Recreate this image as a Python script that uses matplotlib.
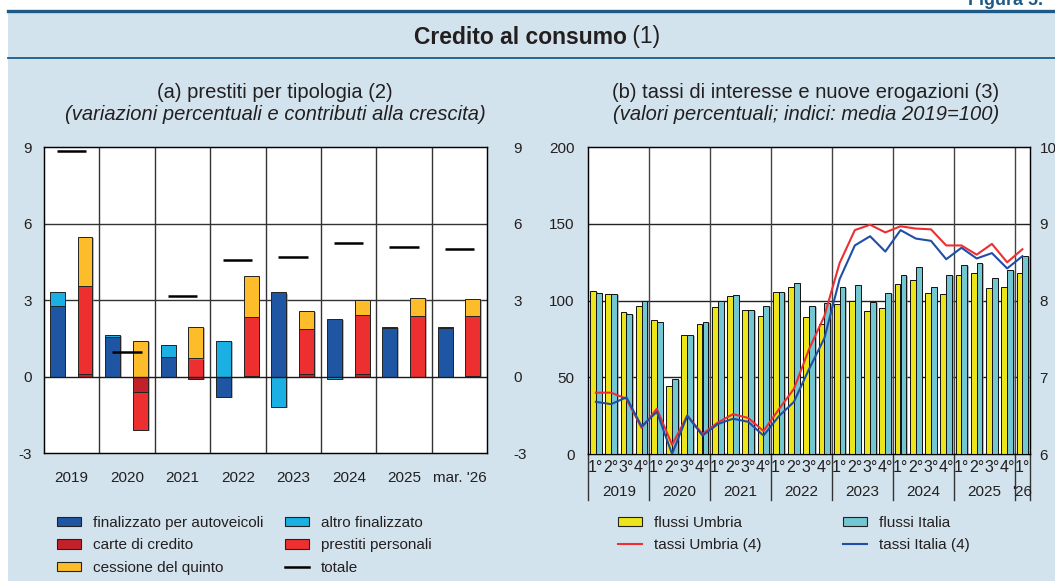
import matplotlib
matplotlib.use("Agg")
import matplotlib.pyplot as plt
import matplotlib.patheffects as pe
from matplotlib.patches import Patch, Rectangle
from matplotlib.lines import Line2D
import matplotlib.transforms as mtrans
import numpy as np

plt.rcParams['font.family'] = ['Liberation Sans', 'DejaVu Sans']

# ---------------- data: panel (a) ----------------
years_a = ["2019", "2020", "2021", "2022", "2023", "2024", "2025", "mar. '26"]
autoveicoli = [2.79, 1.57, 0.78, -0.78, 3.31, 2.28, 1.90, 1.90]
altro_finalizzato = [0.55, 0.06, 0.47, 1.41, -1.17, -0.08, 0.07, 0.06]
carte_credito = [0.12, -0.60, -0.07, 0.04, 0.12, 0.10, 0.01, 0.05]
prestiti_personali = [3.45, -1.49, 0.72, 2.31, 1.77, 2.33, 2.38, 2.32]
cessione_quinto = [1.93, 1.41, 1.24, 1.59, 0.68, 0.58, 0.70, 0.68]
totale = [8.87, 0.97, 3.17, 4.57, 4.71, 5.23, 5.09, 5.02]

# ---------------- data: panel (b) ----------------
year_labels_b = ["2019", "2020", "2021", "2022", "2023", "2024", "2025", "'26"]
quarters_per_year = [4, 4, 4, 4, 4, 4, 4, 1]
quarter_labels = ["1°", "2°", "3°", "4°"]
flussi_umbria = [106.1, 104.6, 92.4, 96.7, 87.2, 44.3, 77.4, 84.8,
                 96.1, 102.8, 93.9, 89.8, 105.4, 108.9, 89.1, 84.6,
                 97.6, 99.6, 93.5, 95.2, 110.7, 113.3, 104.8, 104.6,
                 116.7, 117.8, 108.0, 108.7, 117.8]
flussi_italia = [104.8, 104.1, 91.1, 99.6, 85.9, 48.7, 77.8, 86.3,
                 99.6, 103.5, 93.7, 96.7, 105.9, 111.7, 96.3, 98.3,
                 108.7, 110.0, 98.9, 105.2, 116.5, 121.7, 109.1, 116.5,
                 123.3, 124.3, 114.8, 119.8, 129.3]
tassi_umbria = [6.80, 6.80, 6.72, 6.34, 6.59, 6.12, 6.50, 6.26,
                6.41, 6.52, 6.47, 6.30, 6.58, 6.85, 7.37, 7.80,
                8.49, 8.92, 8.99, 8.89, 8.97, 8.94, 8.93, 8.72,
                8.72, 8.60, 8.74, 8.50, 8.67]
tassi_italia = [6.68, 6.65, 6.74, 6.36, 6.55, 6.00, 6.50, 6.24,
                6.39, 6.46, 6.42, 6.24, 6.49, 6.68, 7.11, 7.51,
                8.28, 8.72, 8.84, 8.64, 8.92, 8.81, 8.78, 8.54,
                8.69, 8.55, 8.62, 8.42, 8.58]

# ---------------- styles ----------------
BG = '#d3e3ed'
TXT = '#231f20'
DARKBLUE = '#1d5b86'
C_AUTO = '#1f56a3'
C_ALTRO = '#1ab0e4'
C_CARTE = '#c3212a'
C_PREST = '#ed2f30'
C_CESS = '#fdbd2b'
C_YEL = '#ede51c'
C_CYAN = '#72c7d3'
C_RED = '#ee2e33'
C_BLUE = '#1f4ea6'
FS = 11

W, H = 1055, 581
fig = plt.figure(figsize=(W / 100, H / 100), dpi=100)
fig.patch.set_facecolor('white')


def fx(px):
    return px / W


def fy(py):
    return 1 - py / H


# background band
fig.patches.append(Rectangle((fx(8), 0), 1 - fx(8), fy(11), transform=fig.transFigure,
                             facecolor=BG, edgecolor='none', zorder=-10))
fig.add_artist(Line2D([fx(8), 1], [fy(11), fy(11)], color=DARKBLUE, lw=2.4, zorder=-5))
fig.add_artist(Line2D([fx(8), 1], [fy(58), fy(58)], color=DARKBLUE, lw=1.3, zorder=-5))
fig.text(fx(968), fy(5), "Figura 5.", color=DARKBLUE, fontsize=13, fontweight='bold',
         ha='left', va='baseline')

# title: bold part + regular part, centered together
renderer = fig.canvas.get_renderer()
t1 = fig.text(0, fy(37), "Credito al consumo", fontsize=16.5, fontweight='bold', color=TXT,
              ha='left', va='center')
t2 = fig.text(0, fy(37), " (1)", fontsize=16.5, color=TXT, ha='left', va='center')
w1 = t1.get_window_extent(renderer).width
w2 = t2.get_window_extent(renderer).width
cx = 537
t1.set_x(fx(cx - (w1 + w2) / 2))
t2.set_x(fx(cx - (w1 + w2) / 2 + w1))

fig.text(fx(275), fy(92), "(a) prestiti per tipologia (2)", fontsize=14.5, color=TXT,
         ha='center', va='center')
fig.text(fx(275), fy(115), "(variazioni percentuali e contributi alla crescita)", fontsize=14.5,
         color=TXT, ha='center', va='center', style='italic')
fig.text(fx(806), fy(92), "(b) tassi di interesse e nuove erogazioni (3)", fontsize=14.5, color=TXT,
         ha='center', va='center')
fig.text(fx(806), fy(115), "(valori percentuali; indici: media 2019=100)", fontsize=14.5,
         color=TXT, ha='center', va='center', style='italic')

shadow = [pe.SimplePatchShadow(offset=(1.2, -0.8), shadow_rgbFace='#888888', alpha=0.6), pe.Normal()]

# ---------------- panel (a) ----------------
axa = fig.add_axes([fx(44), fy(453.3), fx(487.3) - fx(44), fy(147.3) - fy(453.3)])
axa.set_facecolor('white')
n = len(years_a)
x = np.arange(n)
bw = 0.27
xl = x - 0.26
xr = x + 0.24


def stack(ax, xpos, series, colors):
    pos = np.zeros(len(xpos))
    neg = np.zeros(len(xpos))
    for vals, col in zip(series, colors):
        vals = np.asarray(vals, dtype=float)
        bottom = np.where(vals >= 0, pos, neg)
        ax.bar(xpos, vals, bw, bottom=bottom, color=col, edgecolor='#222222', linewidth=0.7,
               zorder=3, path_effects=shadow)
        pos = np.where(vals >= 0, pos + vals, pos)
        neg = np.where(vals < 0, neg + vals, neg)


stack(axa, xl, [autoveicoli, altro_finalizzato], [C_AUTO, C_ALTRO])
stack(axa, xr, [carte_credito, prestiti_personali, cessione_quinto], [C_CARTE, C_PREST, C_CESS])
axa.hlines(totale, x - 0.27, x + 0.26, color='black', lw=1.8, zorder=4)

axa.set_xlim(-0.5, n - 0.5)
axa.set_ylim(-3, 9)
axa.set_yticks([-3, 0, 3, 6, 9])
axa.set_yticklabels(["-3", "0", "3", "6", "9"])
axa.set_xticks(x)
axa.set_xticklabels(years_a)
for v in [0, 3, 6]:
    axa.axhline(v, color='#1a1a1a' if v == 0 else '#333333', lw=1.0, zorder=1 if v else 3.5)
for b in np.arange(0.5, n - 0.5, 1):
    axa.axvline(b, color='#333333', lw=1.0, zorder=1)
axa.tick_params(axis='both', length=0, labelsize=FS, colors=TXT)
axa.tick_params(axis='x', pad=13)
axa.tick_params(axis='y', pad=9)
for s in axa.spines.values():
    s.set_linewidth(1.0)
    s.set_color('#1a1a1a')
axa2 = axa.twinx()
axa2.set_ylim(-3, 9)
axa2.set_yticks([-3, 0, 3, 6, 9])
axa2.set_yticklabels(["-3", "0", "3", "6", "9"])
axa2.tick_params(axis='y', length=0, labelsize=FS, colors=TXT, pad=19)

# ---------------- panel (b) ----------------
axb = fig.add_axes([fx(588.3), fy(454), fx(1030) - fx(588.3), fy(147.3) - fy(454)])
axb.set_facecolor('white')
nq = len(flussi_umbria)
q = np.arange(nq)
bwb = 0.38
axb.bar(q + 0.305, flussi_umbria, bwb, color=C_YEL, edgecolor='#111111', linewidth=0.7, zorder=3,
        path_effects=shadow)
axb.bar(q + 0.69, flussi_italia, bwb, color=C_CYAN, edgecolor='#111111', linewidth=0.7, zorder=3,
        path_effects=shadow)
axb.set_xlim(0, nq)
axb.set_ylim(0, 200)
axb.set_yticks([0, 50, 100, 150, 200])
for v in [50, 100, 150]:
    axb.axhline(v, color='#222222', lw=1.0, zorder=1)
bounds = np.cumsum([0] + quarters_per_year)
for b in bounds[1:-1]:
    axb.axvline(b, color='#444444', lw=1.0, zorder=1)
ticks_q = q + 0.5
qlabels = []
for nqy in quarters_per_year:
    qlabels += quarter_labels[:nqy]
axb.set_xticks(ticks_q)
axb.set_xticklabels(qlabels)
axb.tick_params(axis='x', length=0, labelsize=11.5, colors=TXT, pad=4)
axb.tick_params(axis='y', length=0, labelsize=FS, colors=TXT, pad=10)
for s in axb.spines.values():
    s.set_linewidth(1.0)
    s.set_color('#1a1a1a')
trans = mtrans.blended_transform_factory(axb.transData, axb.transAxes)
sep_bottom = -(46 / 306.7)
for b in bounds:
    axb.add_artist(Line2D([b, b], [0, sep_bottom], transform=trans, color='#333333', lw=1.0,
                          clip_on=False))
for i, lab in enumerate(year_labels_b):
    c = (bounds[i] + bounds[i + 1]) / 2
    axb.text(c, -(38 / 306.7), lab, transform=trans, ha='center', va='center', fontsize=FS,
             color=TXT, clip_on=False)

axb2 = axb.twinx()
axb2.plot(ticks_q, tassi_umbria, color=C_RED, lw=1.5, zorder=5)
axb2.plot(ticks_q, tassi_italia, color=C_BLUE, lw=1.5, zorder=5)
axb2.set_ylim(6, 10)
axb2.set_yticks([6, 7, 8, 9, 10])
axb2.tick_params(axis='y', length=0, labelsize=FS, colors=TXT, pad=7)
axb2.set_xlim(0, nq)

# ---------------- legends ----------------
ec = '#222222'
leg_kw = dict(loc='upper left', frameon=False, fontsize=FS, handlelength=1.6, handleheight=0.6,
              handletextpad=0.75, labelspacing=0.55, borderpad=0, borderaxespad=0,
              bbox_transform=fig.transFigure, labelcolor=TXT)
h1 = [Patch(facecolor=C_AUTO, edgecolor=ec, lw=0.8), Patch(facecolor=C_CARTE, edgecolor=ec, lw=0.8),
      Patch(facecolor=C_CESS, edgecolor=ec, lw=0.8)]
fig.legend(h1, ["finalizzato per autoveicoli", "carte di credito", "cessione del quinto"],
           bbox_to_anchor=(fx(57), fy(516)), **leg_kw)
h2 = [Patch(facecolor=C_ALTRO, edgecolor=ec, lw=0.8), Patch(facecolor=C_PREST, edgecolor=ec, lw=0.8),
      Line2D([], [], color='black', lw=1.8)]
fig.legend(h2, ["altro finalizzato", "prestiti personali", "totale"],
           bbox_to_anchor=(fx(285), fy(516)), **leg_kw)
h3 = [Patch(facecolor=C_YEL, edgecolor=ec, lw=0.8), Line2D([], [], color=C_RED, lw=1.5)]
fig.legend(h3, ["flussi Umbria", "tassi Umbria (4)"], bbox_to_anchor=(fx(618), fy(516)), **leg_kw)
h4 = [Patch(facecolor=C_CYAN, edgecolor=ec, lw=0.8), Line2D([], [], color=C_BLUE, lw=1.5)]
fig.legend(h4, ["flussi Italia", "tassi Italia (4)"], bbox_to_anchor=(fx(843), fy(516)), **leg_kw)

fig.savefig("out.png", dpi=100, facecolor='white')
